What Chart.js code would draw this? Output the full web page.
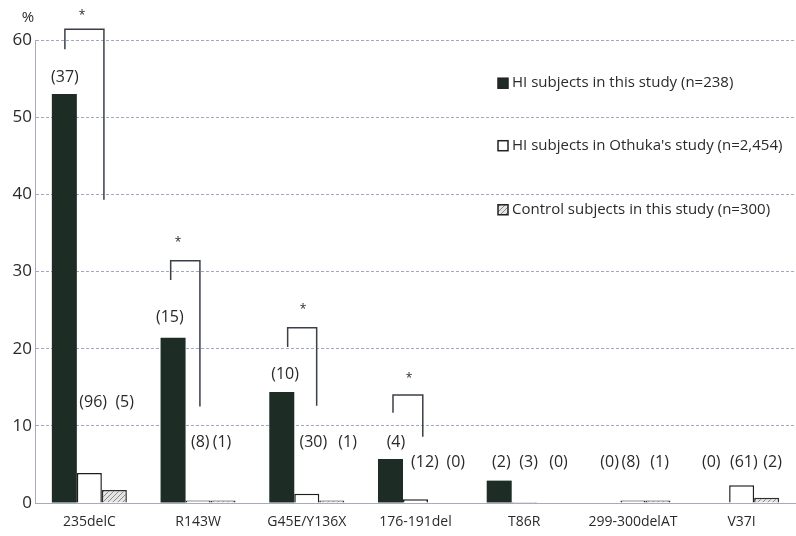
<!DOCTYPE html>
<html>
<head>
<meta charset="utf-8">
<script src="https://cdn.jsdelivr.net/npm/chart.js@4"></script>
<style>
  html, body { margin: 0; padding: 0; background: #fff; }
  #wrap { width: 796px; height: 536px; position: relative; }
</style>
</head>
<body>
<div id="wrap"><canvas id="chart" width="796" height="536"></canvas></div>
<script>
const mutations = ["235delC", "R143W", "G45E/Y136X", "176-191del", "T86R", "299-300delAT", "V37I"];
const thisStudy = [53.0, 21.4, 14.4, 5.7, 2.9, 0, 0];
const othukaStudy = [3.9, 0.33, 1.2, 0.49, 0.12, 0.33, 2.3];
const controls = [1.67, 0.33, 0.33, 0, 0, 0.33, 0.67];
const yTicks = [0, 10, 20, 30, 40, 50, 60];

const seriesNames = [
  "HI subjects in this study (n=238)",
  "HI subjects in Othuka's study (n=2,454)",
  "Control subjects in this study (n=300)"
];

// allele counts shown above the bars: [text, offset in category units, y value]
const countLabels = [
  [["(37)", -0.225, 55.1], ["(96)", 0.035, 13.0], ["(5)", 0.325, 13.0]],
  [["(15)", -0.26, 24.0], ["(8)", 0.02, 7.8], ["(1)", 0.22, 7.8]],
  [["(10)", -0.2, 16.6], ["(30)", 0.06, 7.8], ["(1)", 0.375, 7.8]],
  [["(4)", -0.18, 7.8], ["(12)", 0.087, 5.3], ["(0)", 0.37, 5.3]],
  [["(2)", -0.21, 5.3], ["(3)", 0.04, 5.3], ["(0)", 0.315, 5.3]],
  [["(0)", -0.215, 5.3], ["(8)", -0.02, 5.3], ["(1)", 0.245, 5.3]],
  [["(0)", -0.28, 5.3], ["(61)", 0.02, 5.3], ["(2)", 0.285, 5.3]]
];

// significance brackets: category, left x, right x, top, left foot, right foot, star x, star y
const brackets = [
  [0, -0.225, 0.134, 61.4, 58.8, 39.3, -0.068, 63.5],
  [1, -0.252, 0.017, 31.4, 28.9, 12.5, -0.185, 34.1],
  [2, -0.176, 0.091, 22.7, 20.2, 12.6, -0.035, 25.5],
  [3, -0.207, 0.067, 14.0, 11.7, 8.6, -0.06, 16.5]
];

const FONT = "'Open Sans', 'DejaVu Sans', sans-serif";
const DARK = "#1e2c26";

function hatch() {
  const c = document.createElement("canvas");
  c.width = 5; c.height = 5;
  const g = c.getContext("2d");
  g.fillStyle = "#e4e4e4";
  g.fillRect(0, 0, 5, 5);
  g.strokeStyle = "#8a8a8a";
  g.lineWidth = 1;
  g.beginPath();
  g.moveTo(0, 5); g.lineTo(5, 0);
  g.moveTo(-1, 1); g.lineTo(1, -1);
  g.moveTo(4, 6); g.lineTo(6, 4);
  g.stroke();
  return g.createPattern(c, "repeat");
}
const hatchFill = hatch();

const annotate = {
  id: "annotate",
  afterDatasetsDraw(chart) {
    const { ctx, scales: { x, y } } = chart;
    const step = x.getPixelForValue(1) - x.getPixelForValue(0);
    const px = (cat, off) => x.getPixelForValue(cat) + off * step;

    ctx.save();
    ctx.fillStyle = "#2a2a2a";
    ctx.font = "16px " + FONT;
    ctx.textAlign = "center";
    ctx.textBaseline = "middle";
    countLabels.forEach((group, i) => {
      group.forEach(([t, off, v]) => ctx.fillText(t, px(i, off), y.getPixelForValue(v)));
    });

    ctx.strokeStyle = "#3a3f48";
    ctx.lineWidth = 1.5;
    brackets.forEach(([cat, l, r, top, lf, rf, sx, sy]) => {
      ctx.beginPath();
      ctx.moveTo(px(cat, l), y.getPixelForValue(lf));
      ctx.lineTo(px(cat, l), y.getPixelForValue(top));
      ctx.lineTo(px(cat, r), y.getPixelForValue(top));
      ctx.lineTo(px(cat, r), y.getPixelForValue(rf));
      ctx.stroke();
      ctx.font = "12px " + FONT;
      ctx.fillText("*", px(cat, sx), y.getPixelForValue(sy) + 3);
    });

    // "%" unit label
    ctx.font = "15px " + FONT;
    ctx.fillText("%", chart.chartArea.left - 7, chart.chartArea.top - 22);

    // legend inside plot area
    const lx = 498, rows = [y.getPixelForValue(54.4), y.getPixelForValue(46.3), y.getPixelForValue(38.0)];
    ctx.font = "15px " + FONT;
    ctx.textAlign = "left";
    chart.data.datasets.forEach((ds, i) => {
      const cy = rows[i];
      ctx.fillStyle = ds.backgroundColor;
      ctx.fillRect(lx, cy - 5, 10, 10);
      ctx.strokeStyle = "#222";
      ctx.lineWidth = 1.5;
      ctx.strokeRect(lx, cy - 5, 10, 10);
      ctx.fillStyle = "#2a2a2a";
      ctx.fillText(ds.label, lx + 14, cy);
    });
    ctx.restore();
  }
};

new Chart(document.getElementById("chart"), {
  type: "bar",
  data: {
    labels: mutations,
    datasets: [
      { label: seriesNames[0], data: thisStudy, backgroundColor: DARK, borderColor: DARK, borderWidth: 0 },
      { label: seriesNames[1], data: othukaStudy, backgroundColor: "#ffffff", borderColor: "#1e1e1e", borderWidth: 1.5 },
      { label: seriesNames[2], data: controls, backgroundColor: hatchFill, borderColor: "#2e2e2e", borderWidth: 1.5 }
    ]
  },
  options: {
    responsive: false,
    animation: false,
    devicePixelRatio: 1,
    layout: { padding: { top: 40, right: 0, left: 0, bottom: 0 } },
    datasets: { bar: { barPercentage: 1, categoryPercentage: 0.69 } },
    plugins: { legend: { display: false }, tooltip: { enabled: false } },
    scales: {
      x: {
        grid: { display: false, drawTicks: false },
        border: { color: "#a8acb8", width: 1 },
        ticks: { color: "#2a2a2a", font: { family: FONT, size: 14 }, padding: 11, maxRotation: 0, autoSkip: false },
        afterFit(s) { s.height = 33; }
      },
      y: {
        min: 0, max: 60,
        afterBuildTicks(s) { s.ticks = yTicks.map(v => ({ value: v })); },
        grid: { color: "#a3a8c2", lineWidth: 1, drawTicks: false },
        border: { color: "#a8acb8", width: 1, dash: [3, 2] },
        ticks: { color: "#2a2a2a", font: { family: FONT, size: 17 }, padding: 3, autoSkip: false },
        afterFit(s) { s.width = 35; }
      }
    }
  },
  plugins: [annotate]
});
</script>
</body>
</html>
